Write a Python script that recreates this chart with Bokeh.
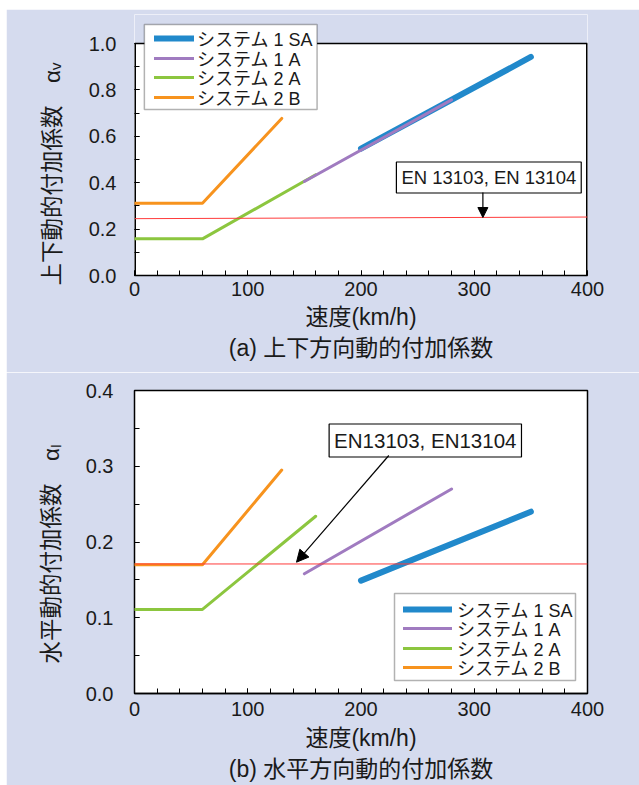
from bokeh.plotting import figure
from bokeh.models import (Range1d, SingleIntervalTicker, FixedTicker, PrintfTickFormatter,
                          Legend, LegendItem, Label, Arrow, NormalHead, Title, BoxAnnotation)
from bokeh.layouts import column
from bokeh.embed import file_html
from bokeh.resources import INLINE

# ---------------- data ----------------
series_names = ["システム 1 SA", "システム 1 A", "システム 2 A", "システム 2 B"]
x_label = "速度(km/h)"

# (a) vertical dynamic factor
v_1sa_x = [200, 350]
v_1sa_y = [0.547, 0.942]
v_1a_x = [150, 280]
v_1a_y = [0.405, 0.757]
v_2a_x = [0, 60, 160]
v_2a_y = [0.158, 0.158, 0.434]
v_2b_x = [0, 60, 130]
v_2b_y = [0.311, 0.311, 0.677]
v_en_x = [0, 400]
v_en_y = [0.245, 0.252]
v_en_label = "EN 13103, EN 13104"
v_ylabel = "上下動的付加係数\u3000α\u1d65"
v_title = "(a) 上下方向動的付加係数"
v_y_major = [0.0, 0.2, 0.4, 0.6, 0.8, 1.0]
v_y_minor = [0.0, 0.1, 0.2, 0.3, 0.4, 0.5, 0.6, 0.7, 0.8, 0.9, 1.0]

# (b) horizontal dynamic factor
h_1sa_x = [200, 350]
h_1sa_y = [0.149, 0.240]
h_1a_x = [150, 280]
h_1a_y = [0.158, 0.270]
h_2a_x = [0, 60, 160]
h_2a_y = [0.111, 0.111, 0.234]
h_2b_x = [0, 60, 130]
h_2b_y = [0.170, 0.170, 0.295]
h_en_x = [0, 400]
h_en_y = [0.171, 0.171]
h_en_label = "EN13103, EN13104"
h_ylabel = "水平動的付加係数\u3000α\u2097"
h_title = "(b) 水平方向動的付加係数"
h_y_major = [0.0, 0.1, 0.2, 0.3, 0.4]
h_y_minor = [0.0, 0.05, 0.1, 0.15, 0.2, 0.25, 0.3, 0.35, 0.4]

# ---------------- style ----------------
BG = "#D5DBEE"
COLORS = ["#2189CB", "#A07BC0", "#8CC63F", "#F7931E"]
WIDTHS = [6, 3, 3, 3]
RED = "#FF3B3B"
MIX = "'Liberation Sans', 'Noto Sans CJK JP'"
LAT = "Liberation Sans"
TXT = "#1a1a1a"
W = 633


def make_panel(height, mb, y_top, y_max, y_major, y_minor,
               series, en, frame, tick_y_standoff, tick_x_standoff,
               ylab, ylab_standoff, ylab_offset, xlab_standoff, title, title_standoff):
    fl, fr, fb, y_px = frame  # page-pixel: left, right, bottom, pixels per unit y
    p = figure(width=W, height=height, output_backend="svg", toolbar_location=None,
               title=None, x_range=Range1d(0, 400), y_range=Range1d(0, y_top),
               min_border_left=mb[0], min_border_right=mb[1],
               min_border_top=mb[2], min_border_bottom=mb[3])
    p.background_fill_color = "white"
    p.border_fill_color = BG
    p.xgrid.visible = False
    p.ygrid.visible = False

    p.xaxis.ticker = SingleIntervalTicker(interval=100, num_minor_ticks=5)
    p.yaxis.ticker = FixedTicker(ticks=y_major, minor_ticks=y_minor)
    p.yaxis.formatter = PrintfTickFormatter(format="%.1f")
    p.yaxis.bounds = (0, y_max)
    for ax in (p.xaxis, p.yaxis):
        ax.axis_line_color = "black"
        ax.axis_line_width = 1.5
        ax.major_tick_in = 5
        ax.major_tick_out = 0
        ax.minor_tick_in = 5
        ax.minor_tick_out = 0
        ax.major_tick_line_color = "black"
        ax.minor_tick_line_color = "black"
        ax.major_label_text_font = LAT
        ax.major_label_text_font_size = "20px"
        ax.major_label_text_color = TXT
        ax.axis_label_text_font = MIX
        ax.axis_label_text_font_size = "23px"
        ax.axis_label_text_font_style = "normal"
        ax.axis_label_text_color = TXT
    p.yaxis.axis_line_color = None
    p.xaxis.major_label_standoff = tick_x_standoff
    p.yaxis.major_label_standoff = tick_y_standoff
    p.xaxis.axis_label = x_label
    p.xaxis.axis_label_standoff = xlab_standoff

    # vertical axis title, started just below the bottom of the plotting box
    p.add_layout(Title(text=ylab, align="left", offset=ylab_offset, text_font=MIX,
                       text_font_size="22.5px", text_font_style="normal",
                       text_color=TXT, standoff=ylab_standoff), "left")
    p.add_layout(Title(text=title, align="center", text_font=MIX, text_font_size="23px",
                       text_font_style="normal", text_color=TXT,
                       standoff=title_standoff), "below")

    if y_top > y_max:
        # lavender band above the plotting box (the legend sticks out of the box)
        p.add_layout(BoxAnnotation(bottom=y_max, fill_color=BG, fill_alpha=1.0,
                                   line_color=None, level="underlay"))
        p.outline_line_color = None
        p.line([0, 400], [y_max, y_max], line_color="black", line_width=1.5)
        p.line([400, 400], [0, y_max], line_color="black", line_width=3)
        p.line([0, 0], [0, y_max], line_color="black", line_width=3)
    else:
        p.outline_line_color = "black"
        p.outline_line_width = 1.5

    renderers = []
    for (xs, ys), c, w in zip(series, COLORS, WIDTHS):
        r = p.line(xs, ys, line_color=c, line_width=w, line_cap="round")
        renderers.append(r)
    # purple drawn over blue
    p.renderers.remove(renderers[1])
    p.renderers.append(renderers[1])
    p.line(en[0], en[1], line_color=RED, line_width=1)

    sx = lambda px: (px - fl) * 400.0 / (fr - fl)
    sy = lambda py: (fb - py) / y_px
    return p, renderers, sx, sy, fl, fb


def add_legend(p, renderers, sx, sy, fl, fb, box, rows, glyph, text_x):
    # legend frame
    p.add_layout(BoxAnnotation(left=sx(box[0]), right=sx(box[1]),
                               top=sy(box[2]), bottom=sy(box[3]),
                               fill_color="white", fill_alpha=1.0,
                               line_color="black", line_width=1.5, level="annotation"))
    # one legend per row, so the row pitch can be tighter than the font box
    for name, r, row in zip(series_names, renderers, rows):
        lg = Legend(items=[LegendItem(label=name, renderers=[r])],
                    location=(glyph[0] - fl, fb - row - 13), orientation="vertical")
        lg.label_text_font = MIX
        lg.label_text_font_size = "18px"
        lg.label_text_color = TXT
        lg.label_height = 26
        lg.glyph_height = 26
        lg.glyph_width = glyph[1] - glyph[0]
        lg.label_standoff = text_x - glyph[1]
        lg.spacing = 0
        lg.padding = 0
        lg.margin = 0
        lg.border_line_color = None
        lg.background_fill_alpha = 0.0
        p.add_layout(lg, "center")


def box_label(p, x, y, s, size):
    p.add_layout(Label(x=x, y=y, text=s, text_font=LAT, text_font_size=size,
                       text_color=TXT, text_align="center", text_baseline="middle",
                       background_fill_color="white", border_line_color="black",
                       border_line_width=1.2, padding=5))


# ---------------- panel (a) ----------------
pa, ra, ax_, ay_, fla, fba = make_panel(363, (126, 48, 5, 97), 261 / 232, 1.0,
                                        v_y_major, v_y_minor,
                                        [(v_1sa_x, v_1sa_y), (v_1a_x, v_1a_y),
                                         (v_2a_x, v_2a_y), (v_2b_x, v_2b_y)],
                                        (v_en_x, v_en_y), (132, 591, 275, 232),
                                        18, 6, v_ylabel, 42, -10, 5, v_title, 0)
add_legend(pa, ra, ax_, ay_, fla, fba, (142, 317, 24, 109),
           [38.3, 58.3, 77.3, 97.3], (152, 192), 195)
box_label(pa, ax_(491), ay_(177), v_en_label, "18.5px")
pa.add_layout(Arrow(end=NormalHead(size=10, fill_color="black", line_color="black"),
                    x_start=ax_(485), y_start=ay_(192), x_end=ax_(485), y_end=0.25,
                    line_color="black", line_width=1.2))

# ---------------- panel (b) ----------------
pb, rb, bx_, by_, flb, fbb = make_panel(413, (128, 52, 18, 92), 0.4, 0.4,
                                        h_y_major, h_y_minor,
                                        [(h_1sa_x, h_1sa_y), (h_1a_x, h_1a_y),
                                         (h_2a_x, h_2a_y), (h_2b_x, h_2b_y)],
                                        (h_en_x, h_en_y), (134, 587, 693, 757.5),
                                        21, 8, h_ylabel, 37, 30, 6, h_title, 1)
add_legend(pb, rb, bx_, by_, flb, fbb, (394, 575, 593, 680),
           [609.3, 628.3, 647.7, 666.7], (403, 452), 457)
box_label(pb, bx_(424.8), by_(440), h_en_label, "20.5px")
pb.add_layout(Arrow(end=NormalHead(size=12, fill_color="black", line_color="black"),
                    x_start=bx_(388.3), y_start=by_(455), x_end=bx_(296), y_end=by_(561.7),
                    line_color="black", line_width=1.2))

layout = column(pa, pb, spacing=0, margin=(9, 0, 0, 6))
open("out.html", "w").write(file_html(layout, INLINE))
